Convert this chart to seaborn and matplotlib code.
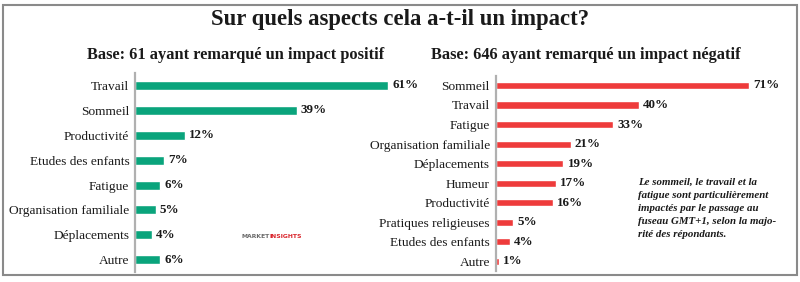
import matplotlib
matplotlib.use("Agg")
import matplotlib.pyplot as plt
import seaborn as sns
import pandas as pd
from matplotlib.patches import Rectangle

# Data
pos_categories = ["Travail", "Sommeil", "Productivité", "Etudes des enfants",
                  "Fatigue", "Organisation familiale", "Déplacements", "Autre"]
pos_values = [61, 39, 12, 7, 6, 5, 4, 6]

neg_categories = ["Sommeil", "Travail", "Fatigue", "Organisation familiale",
                  "Déplacements", "Humeur", "Productivité", "Pratiques religieuses",
                  "Etudes des enfants", "Autre"]
neg_values = [71, 40, 33, 21, 19, 17, 16, 5, 4, 1]

title = "Sur quels aspects cela a-t-il un impact?"
pos_subtitle = "Base: 61 ayant remarqué un impact positif"
neg_subtitle = "Base: 646 ayant remarqué un impact négatif"
note = ("Le sommeil, le travail et la\nfatigue sont particulièrement\n"
        "impactés par le passage au\nfuseau GMT+1, selon la majo-\nrité des répondants.")

GREEN = "#0aa47c"
RED = "#ee3b3b"
SPINE = "#b0b0b0"

sns.set_style("white")
plt.rcParams["font.family"] = ["Liberation Serif", "DejaVu Serif"]

W, H = 800, 282
fig = plt.figure(figsize=(W / 100, H / 100), dpi=100)

def px_axes(left, top, width, height):
    return fig.add_axes([left / W, (H - top - height) / H, width / W, height / H])

def style(ax, xmax):
    ax.set_xlim(0, xmax)
    for s in ["top", "right", "bottom"]:
        ax.spines[s].set_visible(False)
    ax.spines["left"].set_color(SPINE)
    ax.spines["left"].set_linewidth(1.6)
    ax.set_xticks([])
    ax.set_xlabel("")
    ax.set_ylabel("")
    ax.tick_params(axis="y", length=0, pad=4, labelsize=9.6, colors="#1a1a1a")
    ax.set_facecolor("none")

# Left panel
df_pos = pd.DataFrame({"cat": pos_categories, "val": pos_values})
ax1 = px_axes(135, 73, 65 * 4.148, 8 * 24.9)
sns.barplot(data=df_pos, y="cat", x="val", orient="h", color=GREEN,
            saturation=1, width=0.36, ax=ax1)
style(ax1, 65)
ax1.bar_label(ax1.containers[0], labels=[f"{v}%" for v in pos_values],
              padding=3, fontsize=9.4, fontweight="bold", color="#1a1a1a")

# Right panel
df_neg = pd.DataFrame({"cat": neg_categories, "val": neg_values})
ax2 = px_axes(495.5, 75.7, 80 * 3.575, 10 * 19.53)
sns.barplot(data=df_neg, y="cat", x="val", orient="h", color=RED,
            saturation=1, width=0.36, ax=ax2)
style(ax2, 80)
ax2.bar_label(ax2.containers[0], labels=[f"{v}%" for v in neg_values],
              padding=3, fontsize=9.4, fontweight="bold", color="#1a1a1a")

# Titles
fig.text(400 / W, 1 - 19 / H, title, ha="center", va="center",
         fontsize=16.4, fontweight="bold", color="#1a1a1a")
fig.text(235.5 / W, 1 - 55 / H, pos_subtitle, ha="center", va="center",
         fontsize=11.8, fontweight="bold", color="#1a1a1a")
fig.text(586 / W, 1 - 55 / H, neg_subtitle, ha="center", va="center",
         fontsize=11.8, fontweight="bold", color="#1a1a1a")

# Note
fig.text(638 / W, 1 - 178 / H, note, ha="left", va="top", fontsize=7.8,
         fontweight="bold", fontstyle="italic", color="#1a1a1a", linespacing=1.56)

# Logo text
fig.text(241 / W, 1 - 236 / H, "MARKET", ha="left", va="center",
         fontsize=4.4, fontweight="bold", color="#6a6a6a", family="DejaVu Sans")
fig.text(270 / W, 1 - 236 / H, "INSIGHTS", ha="left", va="center",
         fontsize=4.4, fontweight="bold", color="#d9232a", family="DejaVu Sans")

# Border
fig.patches.append(Rectangle((2.5 / W, (H - 275) / H), (797 - 2.5) / W, (275 - 4.5) / H,
                             transform=fig.transFigure, fill=False,
                             edgecolor="#8a8a8a", linewidth=1.5))

fig.savefig("out.png", dpi=100)
